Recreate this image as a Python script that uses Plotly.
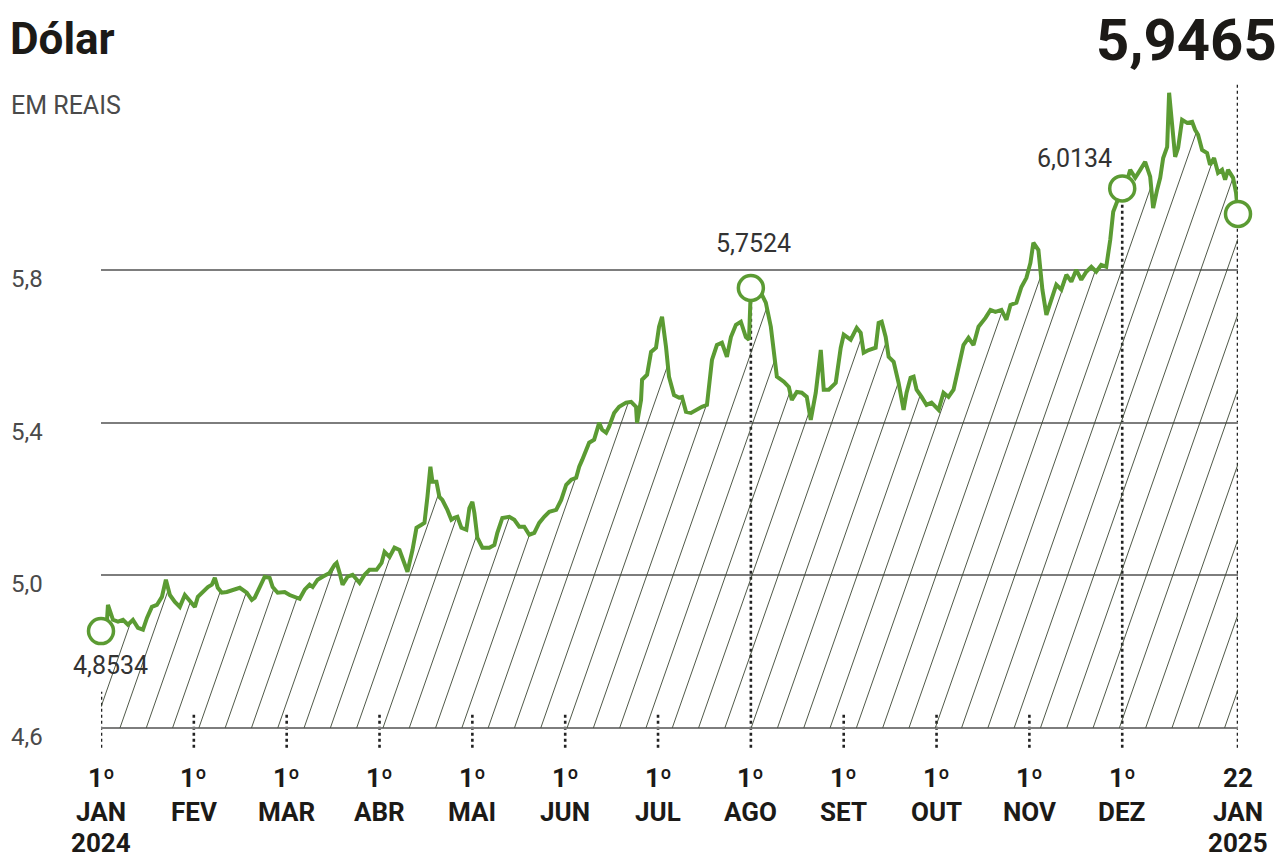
import numpy as np
import plotly.graph_objects as go

# ---------------- data ----------------
# x: months since 1 Jan 2024 (chart's month scale), y: USD/BRL rate (R$)
month_pos = [
    0, 0.065, 0.075, 0.129, 0.183, 0.237, 0.290, 0.344, 0.398, 0.452, 0.495, 0.548, 0.602, 0.656, 0.699,
    0.742, 0.796, 0.849, 0.903, 0.957, 1.011, 1.043, 1.097, 1.151, 1.194, 1.226, 1.258, 1.301, 1.355,
    1.419, 1.495, 1.570, 1.624, 1.656, 1.710, 1.763, 1.817, 1.849, 1.903, 1.978, 2.032, 2.086, 2.140,
    2.194, 2.247, 2.280, 2.333, 2.387, 2.462, 2.516, 2.538, 2.570, 2.602, 2.656, 2.710, 2.785, 2.839,
    2.892, 2.968, 3.022, 3.054, 3.108, 3.161, 3.215, 3.258, 3.301, 3.355, 3.398, 3.452, 3.484, 3.516,
    3.548, 3.570, 3.613, 3.645, 3.677, 3.731, 3.774, 3.806, 3.839, 3.882, 3.935, 3.968, 4.000, 4.022,
    4.054, 4.108, 4.183, 4.237, 4.269, 4.323, 4.398, 4.452, 4.505, 4.559, 4.613, 4.667, 4.720, 4.774,
    4.828, 4.903, 4.957, 5.011, 5.065, 5.118, 5.151, 5.183, 5.258, 5.312, 5.366, 5.398, 5.441, 5.473,
    5.527, 5.581, 5.656, 5.710, 5.763, 5.774, 5.817, 5.828, 5.882, 5.925, 5.978, 6.011, 6.043, 6.086,
    6.118, 6.172, 6.226, 6.258, 6.301, 6.355, 6.409, 6.473, 6.527, 6.581, 6.634, 6.688, 6.742, 6.785,
    6.839, 6.892, 6.946, 6.980, 7.000, 7.108, 7.161, 7.215, 7.280, 7.355, 7.409, 7.441, 7.495, 7.548,
    7.602, 7.645, 7.699, 7.753, 7.785, 7.839, 7.914, 7.968, 8.000, 8.075, 8.140, 8.183, 8.215, 8.269,
    8.344, 8.376, 8.409, 8.452, 8.484, 8.538, 8.591, 8.645, 8.677, 8.720, 8.753, 8.785, 8.839, 8.892,
    8.946, 9.022, 9.075, 9.129, 9.183, 9.237, 9.290, 9.344, 9.398, 9.452, 9.527, 9.581, 9.634, 9.699,
    9.753, 9.796, 9.860, 9.914, 9.968, 10.011, 10.043, 10.097, 10.140, 10.183, 10.237, 10.290, 10.344,
    10.398, 10.452, 10.505, 10.559, 10.613, 10.667, 10.720, 10.774, 10.828, 10.871, 10.903, 11.000,
    11.054, 11.086, 11.140, 11.194, 11.247, 11.301, 11.333, 11.376, 11.409, 11.441, 11.484, 11.505,
    11.538, 11.570, 11.602, 11.645, 11.699, 11.753, 11.785, 11.817, 11.860, 11.914, 11.946, 11.989,
    12.032, 12.075, 12.108, 12.140, 12.194, 12.226, 12.247,
]
usd_brl = [
    4.8534, 4.883, 4.922, 4.883, 4.878, 4.883, 4.870, 4.883, 4.862, 4.857, 4.888, 4.917, 4.922, 4.943, 4.988,
    4.948, 4.930, 4.917, 4.948, 4.933, 4.917, 4.943, 4.956, 4.969, 4.975, 4.993, 4.967, 4.954, 4.956,
    4.962, 4.967, 4.954, 4.935, 4.941, 4.969, 4.996, 4.993, 4.969, 4.954, 4.956, 4.948, 4.943, 4.938,
    4.962, 4.975, 4.969, 4.988, 4.996, 5.006, 5.027, 5.032, 5.006, 4.975, 4.996, 5.001, 4.980, 5.001,
    5.014, 5.014, 5.032, 5.061, 5.048, 5.072, 5.066, 5.040, 5.009, 5.066, 5.124, 5.132, 5.137, 5.205,
    5.284, 5.245, 5.245, 5.205, 5.197, 5.171, 5.145, 5.150, 5.153, 5.124, 5.119, 5.176, 5.192, 5.163,
    5.098, 5.072, 5.072, 5.079, 5.111, 5.150, 5.153, 5.145, 5.127, 5.127, 5.106, 5.111, 5.137, 5.153,
    5.166, 5.171, 5.197, 5.237, 5.250, 5.255, 5.284, 5.302, 5.347, 5.355, 5.399, 5.381, 5.373, 5.389,
    5.425, 5.441, 5.452, 5.454, 5.441, 5.399, 5.459, 5.512, 5.525, 5.585, 5.596, 5.651, 5.677, 5.598,
    5.520, 5.472, 5.465, 5.467, 5.428, 5.425, 5.433, 5.441, 5.446, 5.564, 5.603, 5.609, 5.572, 5.624,
    5.656, 5.664, 5.624, 5.617, 5.7524, 5.740, 5.714, 5.651, 5.520, 5.507, 5.493, 5.459, 5.480, 5.478,
    5.467, 5.407, 5.478, 5.590, 5.486, 5.486, 5.504, 5.596, 5.630, 5.617, 5.648, 5.635, 5.583, 5.590,
    5.596, 5.661, 5.664, 5.624, 5.572, 5.559, 5.504, 5.433, 5.478, 5.517, 5.520, 5.486, 5.467, 5.446,
    5.452, 5.433, 5.478, 5.467, 5.486, 5.546, 5.603, 5.622, 5.603, 5.651, 5.674, 5.695, 5.690, 5.695,
    5.669, 5.708, 5.714, 5.755, 5.779, 5.818, 5.871, 5.852, 5.748, 5.682, 5.721, 5.761, 5.748,
    5.787, 5.769, 5.800, 5.774, 5.795, 5.808, 5.795, 5.813, 5.808, 5.879, 5.952, 6.0134,
    6.036, 6.062, 6.041, 6.062, 6.083, 6.044, 5.962, 6.010, 6.041, 6.093, 6.122, 6.264,
    6.185, 6.096, 6.120, 6.193, 6.185, 6.188, 6.167, 6.154, 6.114, 6.106, 6.075, 6.093,
    6.054, 6.062, 6.036, 6.062, 6.041, 6.002, 5.9465,
]

tick_pos = [0, 1, 2, 3, 4, 5, 6, 7, 8, 9, 10, 11, 12.247]
tick_day = ["1º"] * 12 + ["22"]
tick_month = ["JAN", "FEV", "MAR", "ABR", "MAI", "JUN", "JUL", "AGO", "SET", "OUT", "NOV", "DEZ", "JAN"]
tick_year = ["2024"] + [""] * 11 + ["2025"]

y_grid = [4.6, 5.0, 5.4, 5.8]
y_grid_labels = ["4,6", "5,0", "5,4", "5,8"]

# highlighted points: (month position, value, label)
hl_pos = [0, 7, 11, 12.247]
hl_val = [4.8534, 5.7524, 6.0134, 5.9465]
hl_text = ["4,8534", "5,7524", "6,0134", "5,9465"]

title = "Dólar"
subtitle = "EM REAIS"

# ---------------- style ----------------
GREEN = "#5b9b33"
INK = "#1c1a17"
GRAY = "#4a4a4a"
FONT = "Roboto, 'Open Sans', sans-serif"

W, H = 1282, 862
ML, MR, MT, MB = 101, 44, 79, 96
Y0, Y1 = 4.5, 6.3
X0, X1 = 0, tick_pos[-1]
base = y_grid[0]
PH = H - MT - MB


def paper_y(px):
    """pixel row -> paper y"""
    return (H - MB - px) / PH


def paper_x(px):
    return (px - ML) / (W - ML - MR)


xs = np.array(month_pos)
ys = np.array(usd_brl)

# ---------------- hatch lines (computed from the curve) ----------------
px_per_x = (W - ML - MR) / (X1 - X0)
px_per_y = PH / (Y1 - Y0)
k = 0.35 * px_per_y / px_per_x          # months per real along a hatch line
spacing = 26.3 / px_per_x
tt = np.linspace(0, Y1 - base, 4001)
hx, hy = [], []
start = 19 / px_per_x - spacing * 30
for x0 in np.arange(start, X1, spacing):
    lx = x0 + k * tt
    ly = base + tt
    inside = (lx >= X0) & (lx <= X1)
    curve = np.interp(lx, xs, ys)
    ok = inside & (ly <= curve)
    idx = np.where(inside)[0]
    if len(idx) == 0:
        continue
    i0 = idx[0]
    if not ok[i0]:
        continue
    bad = np.where(~ok)[0]
    bad = bad[bad > i0]
    i1 = bad[0] - 1 if len(bad) else len(tt) - 1
    if i1 <= i0:
        continue
    hx += [float(lx[i0]), float(lx[i1]), None]
    hy += [float(ly[i0]), float(ly[i1]), None]

fig = go.Figure()
fig.add_trace(go.Scatter(x=hx, y=hy, mode="lines",
                         line=dict(color="#3c4634", width=0.9),
                         hoverinfo="skip", showlegend=False))
fig.add_trace(go.Scatter(x=month_pos, y=usd_brl, mode="lines",
                         line=dict(color=GREEN, width=4, shape="linear"),
                         showlegend=False, cliponaxis=False))
fig.add_trace(go.Scatter(x=hl_pos, y=hl_val, mode="markers",
                         marker=dict(size=25, color="white",
                                     line=dict(color=GREEN, width=3.5)),
                         showlegend=False, cliponaxis=False))

# dotted verticals
dy_top_short = 16 / px_per_y
dy_top_jan = 36 / px_per_y
dy_bot = 20 / px_per_y
for i, xp in enumerate(tick_pos):
    if xp in hl_pos[1:3]:
        ytop = hl_val[hl_pos.index(xp)]
    elif i == len(tick_pos) - 1:
        ytop = 6.285
    elif i == 0:
        ytop = base + dy_top_jan
    else:
        ytop = base + dy_top_short
    fig.add_shape(type="line", x0=xp, x1=xp, y0=base - dy_bot, y1=ytop,
                  xref="x", yref="y", layer="below",
                  line=dict(color="#222222", width=2.6, dash="dot"))

annotations = []
# x labels: three lines per tick
label_rows = [(tick_day, 778), (tick_month, 812), (tick_year, 843)]
for row, ypix in label_rows:
    for xp, txt in zip(tick_pos, row):
        if not txt:
            continue
        annotations.append(dict(x=xp, y=paper_y(ypix), xref="x", yref="paper",
                                text=txt, showarrow=False, xanchor="center", yanchor="middle",
                                borderpad=0,
                                font=dict(family=FONT, size=26, color=INK, weight="bold")))
# y labels (left aligned, just below grid lines)
for v, lab in zip(y_grid, y_grid_labels):
    annotations.append(dict(x=paper_x(9), y=v, xref="paper", yref="y",
                            yshift=-9, text=lab, showarrow=False,
                            xanchor="left", yanchor="middle",
                            font=dict(family=FONT, size=24, color=GRAY)))
# highlighted value labels
label_offsets = [(9, -34, "center"), (3, 45, "center"), (-8, 30, "right")]
for (xs_, ys_, xa), xp, v, t in zip(label_offsets, hl_pos[:3], hl_val[:3], hl_text[:3]):
    annotations.append(dict(x=xp, y=v, xref="x", yref="y", xshift=xs_, yshift=ys_,
                            text=t, showarrow=False, xanchor=xa, yanchor="middle",
                            font=dict(family=FONT, size=25, color="#333333")))
# big last value
annotations.append(dict(x=paper_x(1279), y=paper_y(40),
                        xref="paper", yref="paper", text=hl_text[3], showarrow=False,
                        xanchor="right", yanchor="middle",
                        font=dict(family=FONT, size=58, color=INK, weight="bold")))
# title / subtitle
annotations.append(dict(x=paper_x(8), y=paper_y(39),
                        xref="paper", yref="paper", text=title, showarrow=False,
                        xanchor="left", yanchor="middle",
                        font=dict(family=FONT, size=44, color=INK, weight="bold")))
annotations.append(dict(x=paper_x(9), y=paper_y(106),
                        xref="paper", yref="paper", text=subtitle, showarrow=False,
                        xanchor="left", yanchor="middle",
                        font=dict(family=FONT, size=25, color=GRAY)))

fig.update_layout(
    width=W, height=H,
    margin=dict(l=ML, r=MR, t=MT, b=MB, pad=0),
    paper_bgcolor="white", plot_bgcolor="white",
    showlegend=False,
    annotations=annotations,
    xaxis=dict(range=[X0, X1], showgrid=False, zeroline=False, showticklabels=False,
               ticks="", showline=False, fixedrange=True),
    yaxis=dict(range=[Y0, Y1], tickvals=y_grid, showgrid=True, gridcolor="#7d7d7d",
               gridwidth=2, zeroline=False, showticklabels=False, ticks="",
               showline=False, fixedrange=True),
)

fig.write_html("out.html")
